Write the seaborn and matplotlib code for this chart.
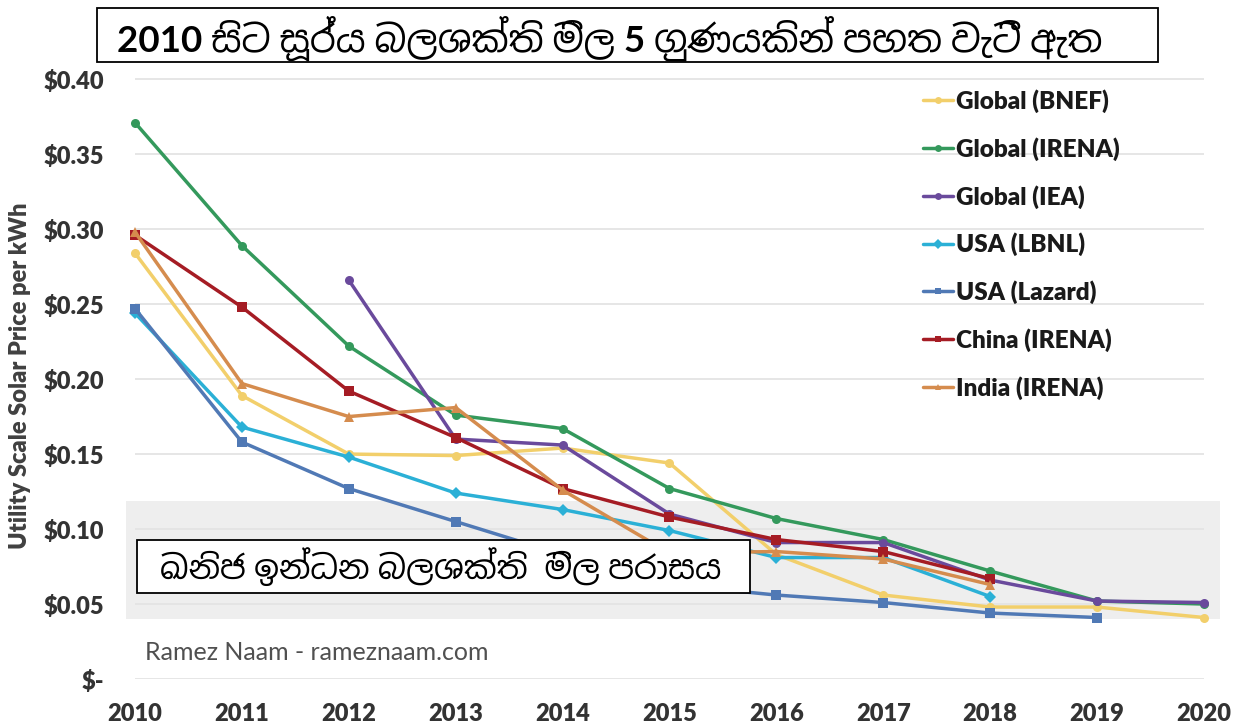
import numpy as np
import pandas as pd
import seaborn as sns
import matplotlib
matplotlib.use('Agg')
import matplotlib.pyplot as plt
from matplotlib import font_manager
from matplotlib.ft2font import FT2Font
from matplotlib.patches import Rectangle

# Data (utility scale solar price, $/kWh)
years = [2010, 2011, 2012, 2013, 2014, 2015, 2016, 2017, 2018, 2019, 2020]
nan = np.nan
global_bnef = [0.284, 0.189, 0.150, 0.149, 0.154, 0.144, 0.083, 0.056, 0.048, 0.048, 0.041]
global_irena = [0.371, 0.289, 0.222, 0.176, 0.167, 0.127, 0.107, 0.093, 0.072, 0.052, 0.050]
global_iea = [nan, nan, 0.266, 0.160, 0.156, 0.110, 0.091, 0.091, 0.066, 0.052, 0.051]
usa_lbnl = [0.244, 0.168, 0.148, 0.124, 0.113, 0.099, 0.081, 0.081, 0.055, nan, nan]
usa_lazard = [0.247, 0.158, 0.127, 0.105, 0.083, 0.063, 0.056, 0.051, 0.044, 0.041, nan]
china_irena = [0.296, 0.248, 0.192, 0.161, 0.127, 0.108, 0.093, 0.085, 0.067, nan, nan]
india_irena = [0.298, 0.197, 0.175, 0.181, 0.126, 0.084, 0.085, 0.080, 0.063, nan, nan]

series_names = ['Global (BNEF)', 'Global (IRENA)', 'Global (IEA)', 'USA (LBNL)',
                'USA (Lazard)', 'China (IRENA)', 'India (IRENA)']
series_values = [global_bnef, global_irena, global_iea, usa_lbnl,
                 usa_lazard, china_irena, india_irena]

# fossil fuel price range band
fossil_low, fossil_high = 0.040, 0.119

y_ticks = [0, 0.05, 0.10, 0.15, 0.20, 0.25, 0.30, 0.35, 0.40]
y_tick_labels = ['$-', '$0.05', '$0.10', '$0.15', '$0.20', '$0.25', '$0.30', '$0.35', '$0.40']

title_text = '2010 සිට සූර්ය බලශක්ති මිල 5 ගුණයකින් පහත වැටී ඇත'
band_text = 'ඛනිජ ඉන්ධන බලශක්ති  මිල පරාසය'

colors = {'Global (BNEF)': '#F2CF6B', 'Global (IRENA)': '#34995C', 'Global (IEA)': '#6A4A9C',
          'USA (LBNL)': '#2BB0D6', 'USA (Lazard)': '#5079B5', 'China (IRENA)': '#A51C24',
          'India (IRENA)': '#D58C4E'}
markers = {'Global (BNEF)': 'o', 'Global (IRENA)': 'o', 'Global (IEA)': 'o',
           'USA (LBNL)': 'D', 'USA (Lazard)': 's', 'China (IRENA)': 's',
           'India (IRENA)': '^'}

# long table for seaborn
rows = []
for name, vals in zip(series_names, series_values):
    for yr, v in zip(years, vals):
        if not np.isnan(v):
            rows.append({'Year': yr, 'Price': v, 'Series': name})
df = pd.DataFrame(rows)

sns.set_style('white')

# find fonts that have Sinhala glyphs, prefer a proper (non mono) one
candidates = []
for f in font_manager.fontManager.ttflist:
    try:
        if 0x0DC3 in FT2Font(f.fname).get_charmap():
            candidates.append(f.name)
    except Exception:
        pass
sinhala_font = None
for test in (lambda n: 'Sinhala' in n and 'Sans' in n,
             lambda n: 'Sinhala' in n,
             lambda n: 'Mono' not in n,
             lambda n: True):
    picks = [n for n in candidates if test(n)]
    if picks:
        sinhala_font = sorted(picks)[0]
        break
sinhala_family = ['Lato', sinhala_font, 'DejaVu Sans'] if sinhala_font else ['Lato', 'DejaVu Sans']

plt.rcParams['font.family'] = ['Lato', 'DejaVu Sans']

fig = plt.figure(figsize=(12.42, 7.26), dpi=100)
ax = fig.add_axes([0.1018, 0.0647, 0.8805, 0.847])

ax.fill_between([2009.92, 2020.15], fossil_low, fossil_high, color='#EEEEEE', zorder=0, lw=0)
ax.hlines(y_ticks, 2010, 2020, colors='#E4E4E4', lw=1.3, zorder=0.5)

sns.lineplot(data=df, x='Year', y='Price', hue='Series', style='Series',
             hue_order=series_names, style_order=series_names,
             palette=colors, markers=markers, dashes=False, estimator=None,
             lw=2.5, markersize=6.5, markeredgewidth=0, ax=ax, zorder=3)

ax.set_xlim(2009.92, 2020.15)
ax.set_ylim(0, 0.41)
ax.set_xticks(years)
ax.set_xticklabels([str(y) for y in years])
ax.set_yticks(y_ticks)
ax.set_yticklabels(y_tick_labels)
ax.tick_params(axis='both', length=0, labelsize=17, colors='#333333')
ax.tick_params(axis='y', pad=16)
ax.tick_params(axis='x', pad=17)
for lab in ax.get_xticklabels() + ax.get_yticklabels():
    lab.set_fontweight('heavy')
for s in ax.spines.values():
    s.set_visible(False)
ax.set_xlabel('')
ax.set_ylabel('')

handles, labels = ax.get_legend_handles_labels()
leg = ax.legend(handles, labels, loc='upper left', bbox_to_anchor=(0.728, 0.959),
                frameon=False, fontsize=17.5, labelspacing=0.99, handlelength=1.25,
                handletextpad=0.12, borderpad=0, borderaxespad=0)
for t in leg.get_texts():
    t.set_fontweight('heavy')
    t.set_color('#1A1A1A')
for h in leg.legend_handles:
    h.set_markersize(5)

ax.text(2010.09, 0.018, 'Ramez Naam - rameznaam.com', fontsize=18, color='#505050',
        va='center', ha='left')

fig.text(0.016, 0.483, 'Utility Scale Solar Price per kWh', rotation=90, fontsize=17,
         fontweight='heavy', color='#404040', ha='center', va='center')

# title box
fig.add_artist(Rectangle((0.078, 0.915), 0.854, 0.074, transform=fig.transFigure,
                         facecolor='white', edgecolor='black', lw=1.3, zorder=5))
fig.text(0.094, 0.947, title_text, family=sinhala_family, fontsize=26.5, fontweight='bold',
         color='black', ha='left', va='center', zorder=6)

# fossil fuel range label box
fig.add_artist(Rectangle((0.110, 0.183), 0.494, 0.073, transform=fig.transFigure,
                         facecolor='white', edgecolor='black', lw=1.3, zorder=5))
fig.text(0.129, 0.219, band_text, family=sinhala_family, fontsize=23.5,
         color='black', ha='left', va='center', zorder=6)

fig.savefig('out.png', dpi=100)
